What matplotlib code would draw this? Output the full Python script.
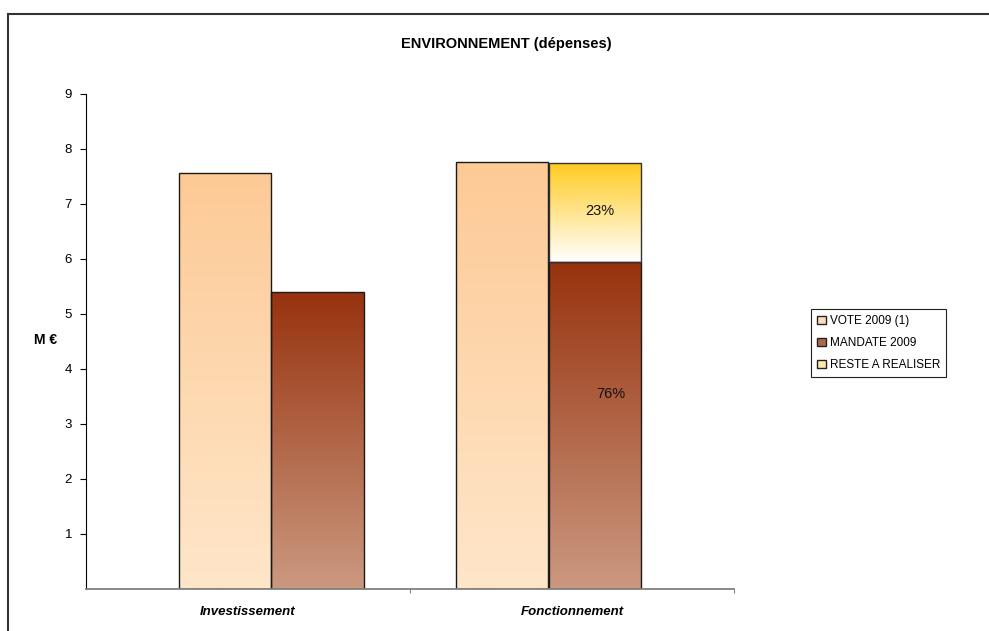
import matplotlib
matplotlib.use("Agg")
import matplotlib.pyplot as plt
import numpy as np
from matplotlib.colors import LinearSegmentedColormap
from matplotlib.patches import Patch, Rectangle

plt.rcParams['font.family'] = ['Liberation Sans', 'DejaVu Sans']

# data (M €)
categories = ['Investissement', 'Fonctionnement']
vote = [7.57, 7.76]
mandate = [5.40, 5.95]
reste = [0.0, 1.79]
reste_pct = ['', '23%']
mandate_pct = ['', '76%']

fig = plt.figure(figsize=(9.89, 6.31), dpi=100)
ax = fig.add_axes([0.087, 0.0666, 0.655, 0.7845])

# bar slots inside each category (taken from the original layout)
vote_x = [0.287, 1.142]
mand_x = [0.572, 1.428]
w = 0.2855


def grad_fill(bars, top, bottom):
    cmap = LinearSegmentedColormap.from_list('g', [bottom, top])
    grad = np.linspace(0, 1, 256).reshape(-1, 1)
    for b in bars:
        if b.get_height() <= 0:
            continue
        x0, y0 = b.get_x(), b.get_y()
        im = ax.imshow(grad, cmap=cmap, origin='lower', aspect='auto',
                       extent=[x0, x0 + b.get_width(), y0, y0 + b.get_height()],
                       zorder=1)
        im.set_clip_path(b)


b_vote = ax.bar(vote_x, vote, w, align='edge', facecolor='none',
                edgecolor='#1a1a1a', linewidth=1.0, zorder=2)
b_mand = ax.bar(mand_x, mandate, w, align='edge', facecolor='none',
                edgecolor='#1a1a1a', linewidth=1.0, zorder=2)
b_rest = ax.bar(mand_x, reste, w, bottom=mandate, align='edge', facecolor='none',
                edgecolor='#333333', linewidth=1.0, zorder=2)
b_rest[0].set_visible(False)

grad_fill(b_vote, '#FDCA96', '#FFE6C9')
grad_fill(b_mand, '#97320E', '#CB9980')
grad_fill(b_rest, '#FFCB20', '#FFFFFF')

for i in range(len(categories)):
    if reste_pct[i]:
        ax.text(mand_x[i] + w / 2 + 0.015, mandate[i] + reste[i] * 0.52, reste_pct[i],
                ha='center', va='center', fontsize=10.5, color='#111111', zorder=3)
    if mandate_pct[i]:
        ax.text(mand_x[i] + w / 2 + 0.05, mandate[i] * 0.595, mandate_pct[i],
                ha='center', va='center', fontsize=10.5, color='#111111', zorder=3)

ax.set_xlim(0, 2)
ax.set_ylim(0, 9)
ax.set_yticks(range(1, 10))
ax.tick_params(axis='y', direction='out', length=4, width=0.8, labelsize=9.5, pad=6)
ax.set_xticks([1, 2])
ax.set_xticklabels(['', ''])
ax.tick_params(axis='x', which='major', direction='out', length=3, color='#808080')
ax.set_xticks([0.5, 1.5], minor=True)
ax.set_xticklabels(categories, minor=True, fontsize=9.5, fontweight='bold', style='italic')
ax.tick_params(axis='x', which='minor', length=0, pad=12)

for s in ['top', 'right']:
    ax.spines[s].set_visible(False)
ax.spines['left'].set_linewidth(0.8)
ax.spines['bottom'].set_color('#808080')
ax.spines['bottom'].set_linewidth(1.3)

fig.text(0.512, 0.930, 'ENVIRONNEMENT (dépenses)', ha='center', va='center',
         fontsize=10.5, fontweight='bold')
fig.text(0.046, 0.461, 'M €', ha='center', va='center', fontsize=10, fontweight='bold')

handles = [Patch(facecolor='#FFDDB8', edgecolor='#222222', label='VOTE 2009 (1)'),
           Patch(facecolor='#B2684B', edgecolor='#222222', label='MANDATE 2009'),
           Patch(facecolor='#FFE9A8', edgecolor='#222222', label='RESTE A REALISER')]
leg = fig.legend(handles=handles, loc='upper left', bbox_to_anchor=(0.820, 0.510),
                 fontsize=8.5, frameon=True, fancybox=False, framealpha=1,
                 edgecolor='#222222', handlelength=0.75, handleheight=0.75,
                 handletextpad=0.35, labelspacing=0.85, borderpad=0.5,
                 borderaxespad=0.0)
leg.get_frame().set_linewidth(0.8)

# outer chart frame
fig.patches.append(Rectangle((8 / 989, -0.1), 1.2, 1.1 - 14 / 631,
                             transform=fig.transFigure, fill=False,
                             edgecolor='#333333', linewidth=1.5))

fig.savefig('out.png', dpi=100)
